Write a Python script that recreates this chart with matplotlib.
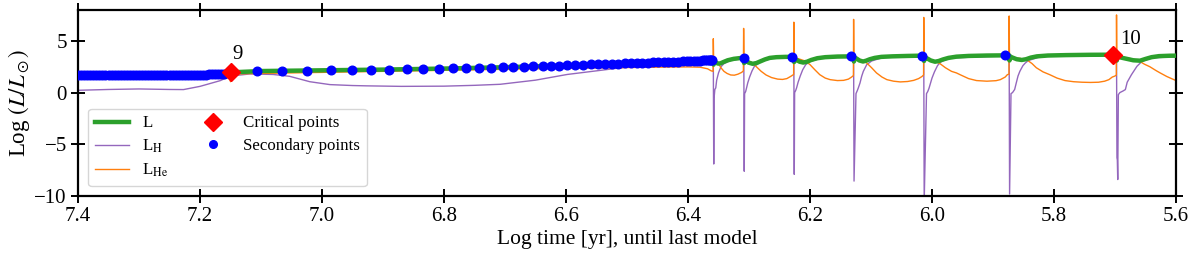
import matplotlib
matplotlib.use("Agg")
import matplotlib.pyplot as plt
from matplotlib.lines import Line2D

plt.rcParams['font.family'] = 'serif'
plt.rcParams['font.serif'] = ['Liberation Serif', 'DejaVu Serif']
plt.rcParams['mathtext.fontset'] = 'stix'

# ---- data (log time until last model, log L/Lsun) ----
# total luminosity L
t_L = [7.42, 7.30, 7.20, 7.16, 7.15, 7.10, 7.00, 6.90, 6.80, 6.70, 6.60, 6.50, 6.45, 6.40, 6.37, 6.3585,
       6.358, 6.3575, 6.355, 6.351, 6.347, 6.342, 6.335, 6.325, 6.315, 6.3085,
       6.308, 6.3075, 6.305, 6.301, 6.294, 6.288, 6.282, 6.274, 6.266, 6.255, 6.240, 6.2265,
       6.226, 6.2255, 6.222, 6.217, 6.211, 6.205, 6.198, 6.188, 6.175, 6.155, 6.1285,
       6.128, 6.1275, 6.124, 6.119, 6.113, 6.108, 6.102, 6.094, 6.083, 6.065, 6.040, 6.0135,
       6.013, 6.0125, 6.008, 6.002, 5.995, 5.989, 5.982, 5.973, 5.960, 5.940, 5.910, 5.8735,
       5.873, 5.8725, 5.868, 5.861, 5.853, 5.846, 5.838, 5.828, 5.810, 5.780, 5.740, 5.6975,
       5.697, 5.6965, 5.690, 5.680, 5.670, 5.659, 5.650, 5.640, 5.628, 5.610, 5.590]
L = [1.65, 1.66, 1.68, 1.80, 1.95, 2.08, 2.15, 2.22, 2.32, 2.45, 2.62, 2.85, 2.95, 3.05, 3.12, 3.15,
     2.70, 3.05, 2.95, 2.80, 2.82, 2.95, 3.12, 3.26, 3.33, 3.35,
     2.85, 3.25, 3.10, 2.90, 2.78, 2.85, 3.00, 3.20, 3.35, 3.42, 3.45, 3.45,
     2.95, 3.30, 3.15, 2.98, 2.90, 2.98, 3.15, 3.32, 3.42, 3.48, 3.50,
     3.00, 3.40, 3.30, 3.10, 3.00, 3.08, 3.22, 3.35, 3.45, 3.50, 3.54, 3.57,
     3.05, 3.45, 3.30, 3.10, 2.98, 3.05, 3.20, 3.35, 3.47, 3.54, 3.58, 3.60,
     3.10, 3.50, 3.38, 3.22, 3.15, 3.22, 3.38, 3.50, 3.58, 3.62, 3.65, 3.66,
     3.10, 3.50, 3.38, 3.25, 3.12, 3.08, 3.25, 3.42, 3.52, 3.56, 3.57]

# hydrogen burning luminosity L_H
t_LH = [7.42, 7.40, 7.35, 7.30, 7.25, 7.227, 7.20, 7.167, 7.15, 7.118, 7.08, 7.053, 7.02, 6.987,
        6.95, 6.927, 6.87, 6.80, 6.75, 6.708, 6.65, 6.598, 6.55, 6.516, 6.47, 6.434, 6.40, 6.37, 6.3585,
        6.3578, 6.3572, 6.356, 6.3545, 6.353, 6.350, 6.346, 6.341, 6.330, 6.312, 6.3085,
        6.3078, 6.3072, 6.3055, 6.304, 6.302, 6.299, 6.295, 6.291, 6.286, 6.280, 6.260, 6.2265,
        6.2258, 6.2252, 6.2235, 6.222, 6.2195, 6.216, 6.212, 6.207, 6.200, 6.180, 6.1285,
        6.1278, 6.1246, 6.1224, 6.1208, 6.118, 6.1153, 6.1126, 6.107, 6.099, 6.080, 6.0135,
        6.0128, 6.009, 6.007, 6.005, 6.003, 6.000, 5.996, 5.991, 5.986, 5.970, 5.8735,
        5.8728, 5.8705, 5.868, 5.8645, 5.862, 5.859, 5.856, 5.851, 5.847, 5.842, 5.820, 5.6975,
        5.6968, 5.6962, 5.6955, 5.6945, 5.692, 5.687, 5.683, 5.680, 5.673, 5.664, 5.656, 5.640, 5.590]
LH = [0.20, 0.22, 0.30, 0.35, 0.30, 0.29, 0.60, 1.15, 1.60, 1.80, 1.75, 1.57, 1.05, 0.77,
      0.68, 0.65, 0.60, 0.62, 0.70, 0.80, 1.20, 1.75, 2.10, 2.35, 2.60, 2.80, 2.90, 3.00, 3.05,
      -6.9, -0.5, 0.30, 0.45, 1.20, 1.90, 2.50, 2.80, 3.10, 3.28, 3.30,
      -7.6, -0.1, 0.10, 0.45, 0.95, 1.50, 2.10, 2.55, 2.75, 3.00, 3.35, 3.40,
      -7.9, 0.00, 0.20, 0.45, 1.00, 1.60, 2.20, 2.70, 3.00, 3.35, 3.45,
      -8.55, -0.1, 0.20, 0.45, 0.93, 1.57, 2.05, 2.70, 3.05, 3.40, 3.52,
      -10.5, -0.1, 0.10, 0.40, 0.80, 1.40, 2.00, 2.60, 2.95, 3.35, 3.55,
      -9.8, -0.1, 0.00, 0.30, 0.90, 1.60, 2.05, 2.60, 2.86, 3.10, 3.50, 3.60,
      -6.3, -6.5, -8.4, -0.2, 0.00, 0.15, 0.29, 1.00, 1.73, 2.54, 3.00, 3.35, 3.50]

# helium burning luminosity L_He
t_LHe = [7.42, 7.20, 7.16, 7.152, 7.150, 7.148, 7.145, 7.10, 7.00, 6.90, 6.80, 6.70, 6.60, 6.50,
         6.468, 6.40, 6.38, 6.368, 6.362, 6.3588, 6.3585, 6.3580,
         6.354, 6.350, 6.346, 6.341, 6.336, 6.330, 6.324, 6.318, 6.312, 6.3092, 6.3088, 6.3082,
         6.302, 6.295, 6.288, 6.280, 6.272, 6.263, 6.253, 6.245, 6.238, 6.232, 6.2268, 6.2265, 6.2260,
         6.218, 6.208, 6.200, 6.192, 6.184, 6.175, 6.167, 6.155, 6.145, 6.137, 6.1318, 6.1288, 6.1285, 6.1280,
         6.118, 6.107, 6.099, 6.091, 6.082, 6.074, 6.063, 6.052, 6.040, 6.030, 6.022, 6.0165, 6.0138, 6.0135, 6.0130,
         6.004, 5.995, 5.987, 5.978, 5.968, 5.960, 5.954, 5.940, 5.927, 5.910, 5.895, 5.888, 5.880, 5.8765,
         5.8738, 5.8735, 5.8730,
         5.865, 5.855, 5.843, 5.836, 5.829, 5.818, 5.807, 5.795, 5.782, 5.768, 5.754, 5.740, 5.727, 5.717,
         5.710, 5.7045, 5.700, 5.6978, 5.6975, 5.6970,
         5.688, 5.676, 5.665, 5.659, 5.652, 5.643, 5.632, 5.626, 5.615, 5.600, 5.590]
LHe = [1.60, 1.65, 1.70, 1.50, 1.05, 1.50, 1.80, 1.85, 1.95, 2.05, 2.15, 2.25, 2.35, 2.42,
       2.44, 2.48, 2.45, 2.30, 2.10, 2.05, 5.20, 3.30,
       3.10, 2.80, 2.40, 2.05, 1.85, 1.70, 1.68, 1.78, 1.95, 2.10, 6.20, 3.30,
       3.10, 2.90, 2.50, 2.05, 1.70, 1.45, 1.30, 1.27, 1.35, 1.55, 1.75, 6.80, 3.40,
       3.25, 3.05, 2.70, 2.20, 1.73, 1.40, 1.25, 1.16, 1.18, 1.30, 1.50, 1.65, 7.07, 3.40,
       3.20, 2.86, 2.40, 1.90, 1.50, 1.25, 1.10, 1.03, 1.07, 1.18, 1.35, 1.55, 1.70, 7.26, 3.40,
       3.20, 3.00, 2.80, 2.40, 2.05, 1.90, 1.73, 1.35, 1.16, 1.10, 1.15, 1.25, 1.50, 1.73,
       1.78, 7.40, 3.40,
       3.35, 3.30, 3.10, 2.80, 2.40, 2.00, 1.73, 1.40, 1.16, 1.05, 1.00, 0.98, 1.00, 1.10,
       1.25, 1.50, 1.60, 1.70, 7.50, 3.40,
       3.35, 3.30, 3.15, 3.00, 2.75, 2.50, 2.10, 1.90, 1.55, 1.16, 1.05]

# secondary points
t_sec = [7.420, 7.415, 7.410, 7.405, 7.400, 7.395, 7.390, 7.385, 7.380, 7.375, 7.370, 7.365,
         7.360, 7.355, 7.350, 7.345, 7.340, 7.335, 7.330, 7.325, 7.320, 7.315, 7.310, 7.305,
         7.300, 7.295, 7.290, 7.285, 7.280, 7.275, 7.270, 7.265, 7.260, 7.255, 7.250, 7.245,
         7.240, 7.235, 7.230, 7.225, 7.220, 7.215, 7.210, 7.205, 7.200, 7.195, 7.190, 7.185,
         7.180, 7.175, 7.170, 7.165, 7.160,
         7.106, 7.065, 7.024, 6.986, 6.951, 6.920, 6.890, 6.860, 6.834, 6.809, 6.786, 6.764,
         6.743, 6.723, 6.704, 6.687, 6.669, 6.654, 6.638, 6.624, 6.611, 6.598, 6.586, 6.572,
         6.559, 6.547, 6.536, 6.525, 6.514, 6.504, 6.494, 6.484, 6.475, 6.466, 6.457, 6.449,
         6.440, 6.432, 6.424, 6.416, 6.409, 6.402, 6.396, 6.390, 6.385, 6.380, 6.376, 6.372,
         6.369, 6.366, 6.364, 6.362, 6.360,
         6.309, 6.230, 6.132, 6.017, 5.880]
L_sec = [1.65, 1.65, 1.65, 1.65, 1.65, 1.65, 1.65, 1.65, 1.65, 1.65, 1.65, 1.65,
         1.65, 1.65, 1.65, 1.65, 1.65, 1.65, 1.65, 1.65, 1.65, 1.65, 1.65, 1.65,
         1.65, 1.65, 1.65, 1.65, 1.65, 1.65, 1.66, 1.66, 1.66, 1.66, 1.66, 1.67,
         1.67, 1.67, 1.68, 1.68, 1.68, 1.69, 1.70, 1.71, 1.72, 1.73, 1.74, 1.75,
         1.76, 1.78, 1.80, 1.82, 1.84,
         2.08, 2.10, 2.12, 2.15, 2.18, 2.20, 2.22, 2.25, 2.28, 2.30, 2.33, 2.36,
         2.39, 2.42, 2.44, 2.47, 2.50, 2.52, 2.55, 2.58, 2.60, 2.63, 2.66, 2.70,
         2.72, 2.74, 2.76, 2.78, 2.80, 2.82, 2.84, 2.86, 2.88, 2.90, 2.92, 2.94,
         2.96, 2.97, 2.98, 3.00, 3.01, 3.03, 3.05, 3.06, 3.08, 3.09, 3.10, 3.11,
         3.12, 3.13, 3.14, 3.15, 3.16,
         3.35, 3.44, 3.50, 3.57, 3.60]

# critical points
t_crit = [7.149, 5.704]
L_crit = [1.95, 3.66]
crit_labels = ['9', '10']

fig = plt.figure(figsize=(12, 2.57), dpi=100)
ax = fig.add_axes([0.065, 0.237, 0.915, 0.725])

ax.plot(t_LH, LH, color='tab:purple', lw=1.0, zorder=2)
ax.plot(t_LHe, LHe, color='tab:orange', lw=1.0, zorder=2)
ax.plot(t_L, L, color='tab:green', lw=3.2, zorder=3)
ax.plot(t_sec, L_sec, 'o', color='blue', ms=6.2, ls='none', zorder=4)
ax.plot(t_crit, L_crit, 'D', color='red', ms=9, ls='none', zorder=5)
ax.annotate(crit_labels[0], (t_crit[0], L_crit[0]), xytext=(1, 8), textcoords='offset pixels',
            fontsize=15, ha='left', va='bottom')
ax.annotate(crit_labels[1], (t_crit[1], L_crit[1]), xytext=(8, 6), textcoords='offset pixels',
            fontsize=15, ha='left', va='bottom')

ax.set_xlim(7.4, 5.6)
ax.set_ylim(-10, 8)
ax.set_xticks([7.4, 7.2, 7.0, 6.8, 6.6, 6.4, 6.2, 6.0, 5.8, 5.6])
ax.set_yticks([-10, -5, 0, 5])
ax.tick_params(direction='inout', length=10, width=1.4, top=True, right=True, labelsize=15, pad=3)
for sp in ax.spines.values():
    sp.set_linewidth(1.6)
ax.set_xlabel('Log time [yr], until last model', fontsize=15.5, labelpad=3)
ax.set_ylabel(r'Log $(L/L_\odot)$', fontsize=16.5, labelpad=2)

handles = [Line2D([], [], color='tab:green', lw=3.2),
           Line2D([], [], color='tab:purple', lw=1.0),
           Line2D([], [], color='tab:orange', lw=1.0),
           Line2D([], [], marker='D', color='red', ms=9, ls='none'),
           Line2D([], [], marker='o', color='blue', ms=5.5, ls='none')]
labels = ['L', r'L$_{\rm H}$', r'L$_{\rm He}$', 'Critical points', 'Secondary points']
ax.legend(handles, labels, ncol=2, loc='lower left', fontsize=12.2, columnspacing=1.6,
          labelspacing=0.38, borderaxespad=0.6)

fig.savefig('out.png', dpi=100)
